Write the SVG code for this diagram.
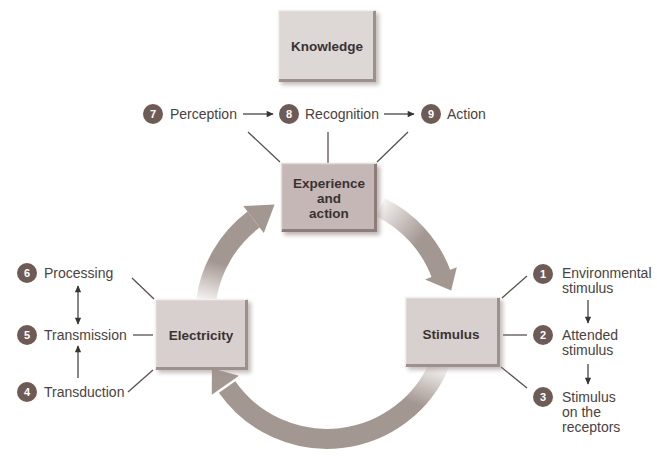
<svg xmlns="http://www.w3.org/2000/svg" width="657" height="457" viewBox="0 0 657 457">
<defs>
<style>
.lbl{font-family:"Liberation Sans",Arial,sans-serif;font-size:14px;fill:#4a4242}
.box{font-family:"Liberation Sans",Arial,sans-serif;font-size:13.5px;font-weight:bold;fill:#3a3232;text-anchor:middle}
.num{font-family:"Liberation Sans",Arial,sans-serif;font-size:11px;font-weight:bold;fill:#ffffff;text-anchor:middle}
.dot{fill:#6e5b56}
.ln{stroke:#5a5050;stroke-width:1.3;fill:none}
.ar{stroke:#3a3434;stroke-width:1.2;fill:none}
.band{fill:none;stroke-width:20}
.head{fill:#a39792}
.bev{fill:none;stroke:#9d908d;stroke-width:3}
.hi{fill:none;stroke:#f3f0ef;stroke-width:1.5}
</style>
<marker id="ah" viewBox="0 0 10 10" refX="9" refY="5" markerWidth="8" markerHeight="7" markerUnits="userSpaceOnUse" orient="auto-start-reverse">
<path d="M0,0.5 L10,5 L0,9.5 z" fill="#3a3434"/>
</marker>
<filter id="sh" x="-20%" y="-20%" width="140%" height="140%">
<feGaussianBlur stdDeviation="2"/>
</filter>
<linearGradient id="gTR" gradientUnits="userSpaceOnUse" x1="380" y1="206" x2="420" y2="240">
<stop offset="0" stop-color="#f4f1f0"/><stop offset="1" stop-color="#a39792"/>
</linearGradient>
<linearGradient id="gB" gradientUnits="userSpaceOnUse" x1="442" y1="368" x2="426" y2="408">
<stop offset="0" stop-color="#f4f1f0"/><stop offset="1" stop-color="#a39792"/>
</linearGradient>
<linearGradient id="gL" gradientUnits="userSpaceOnUse" x1="206" y1="300" x2="216" y2="262">
<stop offset="0" stop-color="#f4f1f0"/><stop offset="1" stop-color="#a39792"/>
</linearGradient>
</defs>
<rect width="657" height="457" fill="#ffffff"/>

<g id="connectors">
<path class="band" stroke="url(#gTR)" d="M380.5 207.3 A122 122 0 0 1 441.6 275.3"/>
<polygon class="head" points="456.8,267.2 451.2,290.6 425.0,279.4"/>
<path class="band" stroke="url(#gB)" d="M440.1 362.7 A122 122 0 0 1 227.1 387.0"/>
<polygon class="head" points="239.0,375.7 211.9,368.2 211.8,394.7"/>
<path class="band" stroke="url(#gL)" d="M206.2 300.0 A122 122 0 0 1 253.6 219.6"/>
<polygon class="head" points="243.3,206.0 274.6,204.6 263.8,233.1"/>
<line class="ln" x1="248" y1="132" x2="280" y2="162"/>
<line class="ln" x1="328" y1="132" x2="328" y2="163"/>
<line class="ln" x1="408" y1="132" x2="377" y2="162"/>
<line class="ar" x1="243" y1="114" x2="273" y2="114" marker-end="url(#ah)"/>
<line class="ar" x1="384" y1="114" x2="414" y2="114" marker-end="url(#ah)"/>
<line class="ln" x1="132" y1="278" x2="154" y2="299"/>
<line class="ln" x1="133" y1="335" x2="153" y2="335"/>
<line class="ln" x1="128" y1="392" x2="153" y2="370"/>
<line class="ar" x1="78" y1="286" x2="78" y2="324" marker-start="url(#ah)" marker-end="url(#ah)"/>
<line class="ar" x1="78" y1="378" x2="78" y2="346" marker-end="url(#ah)"/>
<line class="ln" x1="502" y1="298" x2="527" y2="276"/>
<line class="ln" x1="503" y1="335" x2="527" y2="335"/>
<line class="ln" x1="501" y1="367" x2="527" y2="388"/>
<line class="ar" x1="588" y1="300" x2="588" y2="323" marker-end="url(#ah)"/>
<line class="ar" x1="588" y1="364" x2="588" y2="384" marker-end="url(#ah)"/>
</g>

<g id="knowledge">
<rect x="281" y="13" width="98" height="72" fill="#9e9290" opacity="0.6" filter="url(#sh)"/>
<rect x="278" y="10" width="98" height="72" fill="#ddd7d6"/>
<polyline class="hi" points="278.5,81 278.5,10.5 375,10.5"/>
<polyline class="bev" points="374.5,11 374.5,80.5 279,80.5"/>
<text class="box" x="327" y="51">Knowledge</text>
</g>

<g id="experience">
<rect x="284" y="166" width="96" height="69" fill="#8f8280" opacity="0.6" filter="url(#sh)"/>
<rect x="281" y="163" width="96" height="69" fill="#c4b7b5"/>
<polyline class="hi" points="281.5,231 281.5,163.5 376,163.5" style="stroke:#e3dcdb"/>
<polyline class="bev" points="375.5,164 375.5,230.5 282,230.5" style="stroke:#8c7d7a"/>
<text class="box" x="329" y="188">Experience</text>
<text class="box" x="329" y="203">and</text>
<text class="box" x="329" y="218">action</text>
</g>

<g id="electricity">
<rect x="158" y="302" width="93" height="71" fill="#9e9290" opacity="0.6" filter="url(#sh)"/>
<rect x="155" y="299" width="93" height="71" fill="#d8d0ce"/>
<polyline class="hi" points="155.5,369 155.5,299.5 247,299.5"/>
<polyline class="bev" points="246.5,300 246.5,368.5 156,368.5"/>
<text class="box" x="201" y="340">Electricity</text>
</g>

<g id="stimulus">
<rect x="408" y="300" width="95" height="70" fill="#9e9290" opacity="0.6" filter="url(#sh)"/>
<rect x="405" y="297" width="95" height="70" fill="#d8d0ce"/>
<polyline class="hi" points="405.5,366 405.5,297.5 499,297.5"/>
<polyline class="bev" points="498.5,298 498.5,365.5 406,365.5"/>
<text class="box" x="451" y="339">Stimulus</text>
</g>

<g id="perception">
<circle class="dot" cx="153" cy="114" r="10"/>
<text class="num" x="153" y="118">7</text>
<text class="lbl" x="170" y="119">Perception</text>
</g>
<g id="recognition">
<circle class="dot" cx="289" cy="114" r="10"/>
<text class="num" x="289" y="118">8</text>
<text class="lbl" x="305" y="119">Recognition</text>
</g>
<g id="action">
<circle class="dot" cx="431" cy="114" r="10"/>
<text class="num" x="431" y="118">9</text>
<text class="lbl" x="447" y="119">Action</text>
</g>

<g id="processing">
<circle class="dot" cx="27" cy="273" r="10"/>
<text class="num" x="27" y="277">6</text>
<text class="lbl" x="44" y="278">Processing</text>
</g>
<g id="transmission">
<circle class="dot" cx="27" cy="335" r="10"/>
<text class="num" x="27" y="339">5</text>
<text class="lbl" x="44" y="340">Transmission</text>
</g>
<g id="transduction">
<circle class="dot" cx="27" cy="392" r="10"/>
<text class="num" x="27" y="396">4</text>
<text class="lbl" x="44" y="397">Transduction</text>
</g>

<g id="environmental">
<circle class="dot" cx="543" cy="274" r="10"/>
<text class="num" x="543" y="278">1</text>
<text class="lbl" x="562" y="278">Environmental</text>
<text class="lbl" x="562" y="293">stimulus</text>
</g>
<g id="attended">
<circle class="dot" cx="543" cy="335" r="10"/>
<text class="num" x="543" y="339">2</text>
<text class="lbl" x="562" y="340">Attended</text>
<text class="lbl" x="562" y="355">stimulus</text>
</g>
<g id="receptors">
<circle class="dot" cx="543" cy="397" r="10"/>
<text class="num" x="543" y="401">3</text>
<text class="lbl" x="562" y="402">Stimulus</text>
<text class="lbl" x="562" y="417">on the</text>
<text class="lbl" x="562" y="432">receptors</text>
</g>
</svg>
